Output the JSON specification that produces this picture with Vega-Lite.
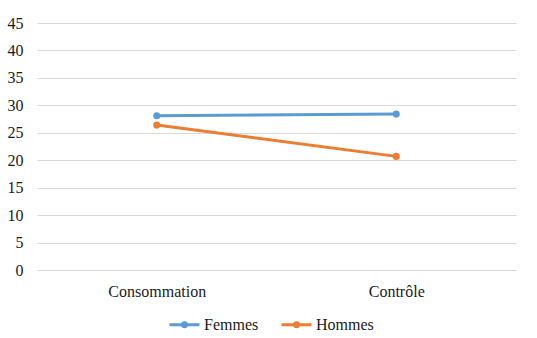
{
  "$schema": "https://vega.github.io/schema/vega-lite/v6.json",
  "autosize": {"type": "none"},
  "width": 479,
  "height": 247,
  "padding": {"left": 37, "top": 23, "right": 21, "bottom": 68},
  "background": "white",
  "data": {
    "values": [
      {"condition": "Consommation", "sexe": "Femmes", "score": 28.1},
      {"condition": "Contrôle", "sexe": "Femmes", "score": 28.4},
      {"condition": "Consommation", "sexe": "Hommes", "score": 26.4},
      {"condition": "Contrôle", "sexe": "Hommes", "score": 20.7}
    ]
  },
  "mark": {
    "type": "line",
    "strokeWidth": 3,
    "point": {"filled": true, "size": 50, "opacity": 1}
  },
  "encoding": {
    "x": {
      "field": "condition",
      "type": "nominal",
      "sort": ["Consommation", "Contrôle"],
      "scale": {"paddingInner": 0, "paddingOuter": 0.5},
      "axis": {
        "title": null,
        "labelAngle": 0,
        "domain": false,
        "ticks": false,
        "grid": false,
        "labelPadding": 13,
        "labelFont": "serif",
        "labelFontSize": 16
      }
    },
    "y": {
      "field": "score",
      "type": "quantitative",
      "scale": {"domain": [0, 45], "nice": false},
      "axis": {
        "title": null,
        "values": [0, 5, 10, 15, 20, 25, 30, 35, 40, 45],
        "domain": false,
        "ticks": false,
        "labelPadding": 14,
        "grid": true,
        "labelFont": "Liberation Serif",
        "labelFontSize": 16,
        "labelFontWeight": "normal"
      }
    },
    "color": {
      "field": "sexe",
      "type": "nominal",
      "scale": {"domain": ["Femmes", "Hommes"], "range": ["#5B9BD5", "#ED7D31"]},
      "legend": {
        "title": null,
        "orient": "none",
        "direction": "horizontal",
        "legendX": 131,
        "legendY": 285,
        "symbolType": "M-1,0L1,0M-0.13,0A0.13,0.13,0,1,0,0.13,0A0.13,0.13,0,1,0,-0.13,0Z",
        "symbolSize": 900,
        "symbolStrokeWidth": 3,
        "labelOffset": 3,
        "columnPadding": 16,
        "labelFont": "Liberation Serif",
        "labelFontSize": 16
      }
    }
  },
  "config": {
    "view": {"stroke": null},
    "axis": {
      "labelColor": "#1a1a1a",
      "gridColor": "#d9d9d9",
      "gridWidth": 1,
      "gridOpacity": 1
    },
    "legend": {
      "labelColor": "#1a1a1a"
    }
  }
}
